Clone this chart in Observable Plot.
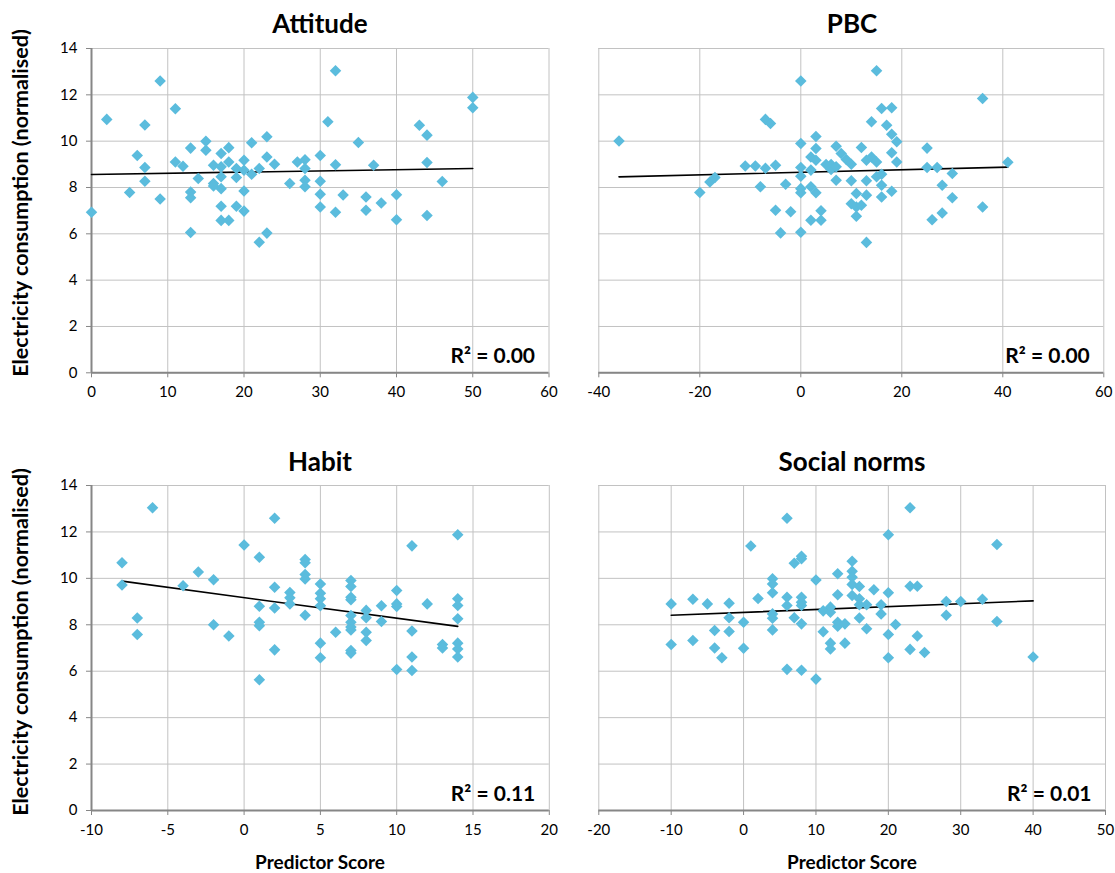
<!DOCTYPE html>
<html>
<head>
<meta charset="utf-8">
<script src="https://cdn.jsdelivr.net/npm/d3@7"></script>
<script src="https://cdn.jsdelivr.net/npm/@observablehq/plot@0.6"></script>
<style>
  html, body { margin: 0; padding: 0; background: #fff; }
  #wrap { position: relative; width: 1115px; height: 873px; font-family: Lato, "Open Sans", sans-serif; }
  .panel { position: absolute; }
  .panel text { fill: #000; }
  .title { position: absolute; font-weight: bold; font-size: 26px; text-align: center; width: 400px; }
  .ylab { position: absolute; font-weight: bold; font-size: 21.5px; white-space: nowrap; transform: translate(-50%, -50%) rotate(-90deg); }
  .xlab { position: absolute; font-weight: bold; font-size: 19px; white-space: nowrap; transform: translate(-50%, -50%); }
</style>
</head>
<body>
<div id="wrap"></div>
<script>
// ---------- data ----------
const panelTitles = ["Attitude", "PBC", "Habit", "Social norms"];
const r2Labels = ["R² = 0.00", "R² = 0.00", "R² = 0.11", "R² = 0.01"];
const yTicks = [0, 2, 4, 6, 8, 10, 12, 14];
const xTicksAttitude = [0, 10, 20, 30, 40, 50, 60];
const xTicksPBC = [-40, -20, 0, 20, 40, 60];
const xTicksHabit = [-10, -5, 0, 5, 10, 15, 20];
const xTicksSocial = [-20, -10, 0, 10, 20, 30, 40, 50];

const attitudePoints = [[0,6.93],[2,10.94],[5,7.78],[6,9.38],[7,10.7],[7,8.86],[7,8.27],[9,12.6],[9,7.5],[11,11.4],[11,9.1],[12,8.92],[13,9.7],[13,7.8],[13,7.56],[13,6.06],[14,8.39],[15,10.0],[15,9.61],[16,8.96],[16,8.17],[16,8.06],[17,9.47],[17,8.89],[17,8.46],[17,7.95],[17,7.19],[17,6.58],[18,9.72],[18,9.1],[18,6.58],[19,8.82],[19,8.43],[19,7.19],[20,9.18],[20,8.74],[20,7.85],[20,6.98],[21,9.93],[21,8.57],[22,8.82],[22,5.64],[23,10.19],[23,9.32],[23,6.03],[24,9.0],[26,8.17],[27,9.1],[28,9.2],[28,8.82],[28,8.31],[28,8.03],[30,9.38],[30,8.27],[30,7.71],[30,7.16],[31,10.84],[32,13.04],[32,8.98],[32,6.93],[33,7.68],[35,9.94],[36,7.59],[36,7.02],[37,8.96],[38,7.33],[40,7.69],[40,6.61],[43,10.69],[44,10.26],[44,9.08],[44,6.79],[46,8.26],[50,11.89],[50,11.44]];
const pbcPoints = [[-36,10.01],[-20,7.78],[-18,8.24],[-17,8.43],[-11,8.93],[-9,8.93],[-7,8.83],[-5,8.96],[-8,8.03],[-7,10.94],[-6,10.76],[-5,7.02],[-3,8.14],[-2,6.95],[-4,6.04],[0,12.6],[0,9.9],[0,8.86],[0,8.49],[0,7.95],[0,7.77],[0,6.07],[2,9.32],[2,8.75],[2,8.03],[2,6.59],[3,10.2],[3,9.68],[3,9.18],[3,7.77],[4,7.0],[4,6.59],[5,8.99],[6,8.99],[6,8.78],[7,9.78],[7,8.89],[7,8.31],[8,9.47],[9,9.21],[10,9.0],[10,8.29],[10,7.3],[11,7.74],[11,7.16],[11,6.76],[12,9.73],[12,7.23],[13,9.18],[13,8.29],[13,7.67],[13,5.63],[14,9.32],[14,10.84],[15,9.1],[15,8.46],[15,13.04],[16,11.41],[16,8.57],[16,8.1],[16,7.59],[17,10.69],[18,11.44],[18,10.3],[18,9.5],[18,7.84],[19,9.97],[19,9.1],[25,9.7],[25,8.86],[27,8.86],[30,8.6],[28,8.1],[30,7.56],[28,6.9],[26,6.61],[36,11.84],[36,7.16],[41,9.09]];
const habitPoints = [[-8,10.67],[-8,9.71],[-7,8.29],[-7,7.58],[-6,13.04],[-4,9.68],[-3,10.27],[-2,9.94],[-2,8.0],[-1,7.52],[0,11.44],[1,10.91],[1,8.8],[1,8.11],[1,7.96],[1,5.63],[2,12.59],[2,9.62],[2,8.72],[2,6.92],[3,9.39],[3,9.16],[3,8.9],[4,10.81],[4,10.67],[4,10.17],[4,9.97],[4,8.41],[5,9.76],[5,9.36],[5,9.12],[5,8.82],[5,7.21],[5,6.58],[6,7.68],[7,9.91],[7,9.65],[7,9.19],[7,9.08],[7,8.4],[7,8.11],[7,7.9],[7,7.78],[7,6.89],[7,6.78],[8,8.62],[8,8.3],[8,7.68],[8,7.32],[9,8.82],[9,8.14],[10,9.48],[10,8.9],[10,8.79],[10,6.07],[11,11.4],[11,7.73],[11,6.61],[11,6.03],[12,8.9],[13,7.15],[13,7.0],[14,11.88],[14,9.12],[14,8.83],[14,8.26],[14,7.21],[14,6.96],[14,6.61]];
const socialPoints = [[-10,8.9],[-10,7.15],[-7,9.1],[-7,7.32],[-5,8.9],[-4,7.75],[-4,7.0],[-3,6.58],[-2,8.93],[-2,8.3],[-2,7.71],[0,8.11],[0,6.99],[1,11.39],[2,9.13],[4,9.98],[4,9.76],[4,9.38],[4,8.47],[4,8.28],[4,7.78],[6,12.59],[6,9.19],[6,8.83],[6,6.08],[7,10.65],[7,8.3],[8,10.85],[8,10.95],[8,9.19],[8,8.97],[8,8.83],[8,8.04],[8,6.04],[10,9.93],[10,5.66],[11,8.6],[11,7.7],[12,8.76],[12,8.54],[12,7.21],[12,6.96],[13,10.2],[13,9.29],[13,8.11],[13,7.94],[14,8.04],[14,7.21],[15,10.74],[15,10.31],[15,10.05],[15,9.74],[15,9.26],[16,9.65],[16,9.12],[16,8.86],[16,8.29],[17,8.86],[17,7.83],[18,9.51],[19,8.86],[19,8.47],[20,11.88],[20,9.38],[20,7.58],[20,6.58],[21,8.01],[23,13.04],[23,9.66],[24,9.66],[24,7.52],[23,6.94],[25,6.81],[28,9.0],[28,8.41],[30,9.0],[33,9.1],[35,11.46],[35,8.14],[40,6.61]];

// trend line end points (as drawn in the reference)
const attitudeTrend = [[0,8.56],[50,8.82]];
const pbcTrend = [[-36,8.46],[41,8.88]];
const habitTrend = [[-8,9.88],[14,7.93]];
const socialTrend = [[-10,8.41],[40,9.03]];

// ---------- drawing ----------
const wrap = document.getElementById("wrap");
const FONT = "Lato, 'Open Sans', sans-serif";
const DOT = "#5BBCDD";
const GRID = "#c2c2c2";
const AXIS = "#868686";

function panel(cfg) {
  const [xmin, xmax] = [cfg.xTicks[0], cfg.xTicks[cfg.xTicks.length - 1]];
  const pts = cfg.points.map(([x, y]) => ({x, y}));
  const tr = cfg.trend.map(([x, y]) => ({x, y}));
  const svg = Plot.plot({
    width: cfg.width, height: cfg.height,
    marginLeft: cfg.ml, marginRight: cfg.mr, marginTop: cfg.mt, marginBottom: cfg.mb,
    style: {fontFamily: FONT, fontSize: "15px", color: AXIS, background: "transparent", overflow: "visible"},
    x: {domain: [xmin, xmax], ticks: cfg.xTicks, tickSize: 5, tickPadding: 9, tickFormat: d => String(d), label: null},
    y: cfg.showY
      ? {domain: [0, 14], ticks: yTicks, tickSize: 5, tickPadding: 9, tickFormat: d => String(d), label: null}
      : {domain: [0, 14], ticks: yTicks, tickSize: 0, tickFormat: () => "", label: null},
    marks: [
      Plot.ruleX(cfg.xTicks, {stroke: GRID, strokeWidth: 1}),
      Plot.ruleY(yTicks, {stroke: GRID, strokeWidth: 1}),
      Plot.ruleY([0], {stroke: AXIS, strokeWidth: 2}),
      cfg.showY ? Plot.ruleX([xmin], {stroke: AXIS, strokeWidth: 2}) : null,
      Plot.line(tr, {x: "x", y: "y", stroke: "#000", strokeWidth: 1.6}),
      Plot.dot(pts, {x: "x", y: "y", symbol: "diamond2", r: 5.2, fill: DOT, stroke: "none"}),
      Plot.text([cfg.r2], {frameAnchor: "bottom-right", dx: -14, dy: -10, text: d => d,
        fontSize: 21, fontWeight: "bold", fill: "#000", textAnchor: "end"})
    ]
  });
  svg.classList.add("panel");
  svg.style.left = cfg.left + "px";
  svg.style.top = cfg.top + "px";
  wrap.appendChild(svg);

  const t = document.createElement("div");
  t.className = "title";
  t.textContent = cfg.title;
  t.style.left = (cfg.titleX - 200) + "px";
  t.style.top = cfg.titleY + "px";
  wrap.appendChild(t);
}

panel({title: panelTitles[0], r2: r2Labels[0], points: attitudePoints, trend: attitudeTrend, xTicks: xTicksAttitude,
  left: 0, top: 0, width: 557, height: 437, ml: 91, mr: 8.5, mt: 48, mb: 64.7, showY: true, titleX: 320, titleY: 7});
panel({title: panelTitles[1], r2: r2Labels[1], points: pbcPoints, trend: pbcTrend, xTicks: xTicksPBC,
  left: 557, top: 0, width: 558, height: 437, ml: 41.3, mr: 11.7, mt: 48, mb: 64.7, showY: false, titleX: 852, titleY: 7});
panel({title: panelTitles[2], r2: r2Labels[2], points: habitPoints, trend: habitTrend, xTicks: xTicksHabit,
  left: 0, top: 437, width: 557, height: 436, ml: 91, mr: 8.2, mt: 48, mb: 63, showY: true, titleX: 320, titleY: 445});
panel({title: panelTitles[3], r2: r2Labels[3], points: socialPoints, trend: socialTrend, xTicks: xTicksSocial,
  left: 557, top: 437, width: 558, height: 436, ml: 41.3, mr: 10, mt: 48, mb: 63, showY: false, titleX: 852, titleY: 445});

function label(cls, text, x, y) {
  const d = document.createElement("div");
  d.className = cls;
  d.textContent = text;
  d.style.left = x + "px";
  d.style.top = y + "px";
  wrap.appendChild(d);
}
label("ylab", "Electricity consumption (normalised)", 20, 203);
label("ylab", "Electricity consumption (normalised)", 20, 642);
label("xlab", "Predictor Score", 320, 861);
label("xlab", "Predictor Score", 852, 861);
</script>
</body>
</html>
